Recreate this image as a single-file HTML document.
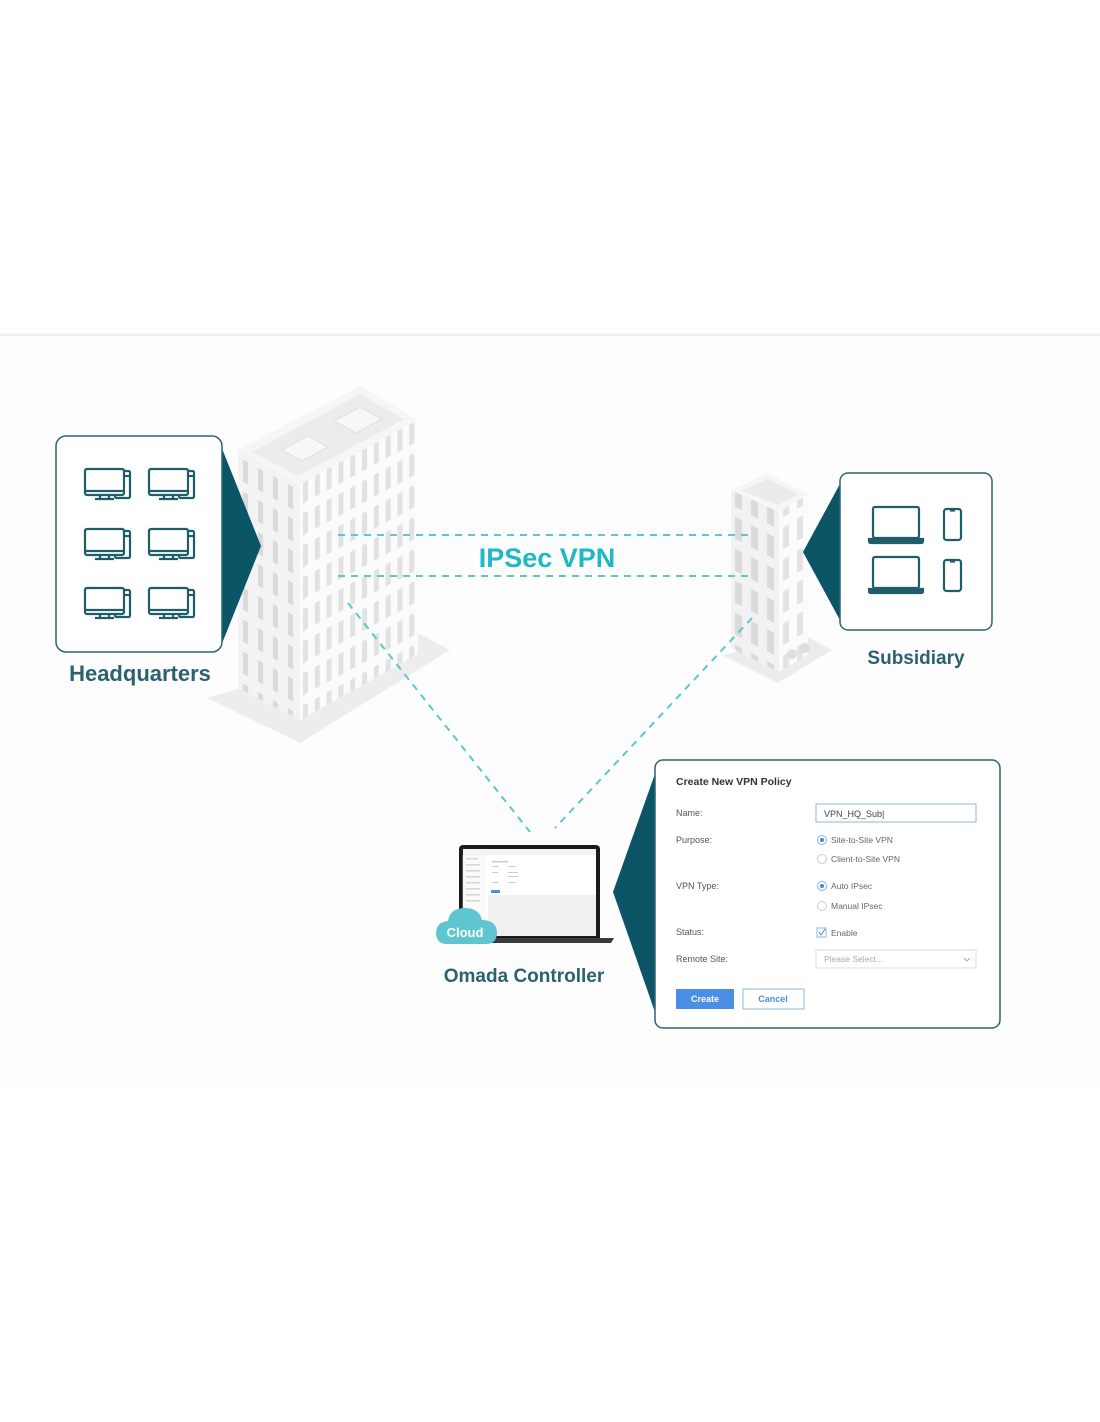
<!DOCTYPE html>
<html><head><meta charset="utf-8"><style>
html,body{margin:0;padding:0;background:#fff}
svg{display:block}
text{font-family:"Liberation Sans",Arial,sans-serif}
</style></head><body>
<svg width="1100" height="1422" viewBox="0 0 1100 1422" xmlns="http://www.w3.org/2000/svg">
<defs>
<pattern id="wR" patternUnits="userSpaceOnUse" x="300" y="0" width="11.8" height="32" patternTransform="skewY(-28.5)">
<rect x="3" y="6" width="5" height="22" fill="#e2e2e2"/></pattern>
<pattern id="wL" patternUnits="userSpaceOnUse" x="238" y="0" width="15" height="32" patternTransform="skewY(28.8)">
<rect x="5" y="6" width="5" height="22" fill="#d9d9d9"/></pattern>
<pattern id="sL" patternUnits="userSpaceOnUse" x="731" y="0" width="16" height="32" patternTransform="skewY(27.5)">
<rect x="4" y="6" width="7" height="22" fill="#dadada"/></pattern>
<pattern id="sR" patternUnits="userSpaceOnUse" x="779" y="0" width="14" height="32" patternTransform="skewY(-31)">
<rect x="4" y="6" width="6" height="22" fill="#e3e3e3"/></pattern>
<g id="pc" fill="none" stroke="#1f5e69" stroke-width="2.2">
<rect x="31" y="3" width="15" height="27" rx="1.5" fill="#fff"/>
<line x1="40" y1="8" x2="46" y2="8"/>
<rect x="1" y="1" width="39" height="26" rx="2" fill="#fff"/>
<line x1="1" y1="23" x2="40" y2="23"/>
<line x1="16" y1="27" x2="16" y2="31"/><line x1="25" y1="27" x2="25" y2="31"/>
<line x1="11" y1="31" x2="30" y2="31"/>
</g>
<g id="lap" fill="none" stroke="#1f5e69" stroke-width="2.2">
<rect x="4" y="0" width="46" height="31" rx="2"/>
<path d="M0 32 H54 V34 Q54 36 52 36 H2 Q0 36 0 34 Z" fill="#1f5e69"/>
</g>
<g id="ph" fill="none" stroke="#1f5e69" stroke-width="2.2">
<rect x="0" y="0" width="17" height="31" rx="2.5"/>
<line x1="6" y1="1.5" x2="11" y2="1.5"/>
</g>
</defs>

<line x1="0" y1="335" x2="1100" y2="335" stroke="#f0f0f0" stroke-width="3"/>
<rect x="0" y="337" width="1100" height="750" fill="#fdfdfd"/>

<!-- HQ building -->
<polygon points="207,698 300,743 450,650 420,634" fill="#ededed"/>
<polygon points="238,450 300,484 300,720 238,688" fill="#f3f3f3"/>
<polygon points="238,450 300,484 300,720 238,688" fill="url(#wL)"/>
<polygon points="300,484 418,420 418,654 300,720" fill="#fbfbfb"/>
<polygon points="300,484 418,420 418,654 300,720" fill="url(#wR)"/>
<polygon points="238,450 360,386 418,420 300,484" fill="#f6f6f6"/>
<polygon points="252,452 360,394 404,419 298,476" fill="#ececec"/>
<polygon points="282,450 308,436 328,447 302,461" fill="#f7f7f7" stroke="#e0e0e0"/>
<polygon points="334,421 360,407 382,419 356,433" fill="#f7f7f7" stroke="#e0e0e0"/>

<!-- Subsidiary building -->
<polygon points="722,655 778,683 832,650 808,637" fill="#ececec"/>
<polygon points="731,490 779,512 779,672 731,648" fill="#f2f2f2"/>
<polygon points="731,490 779,512 779,672 731,648" fill="url(#sL)"/>
<polygon points="779,512 808,494 808,655 779,672" fill="#fbfbfb"/>
<polygon points="779,512 808,494 808,655 779,672" fill="url(#sR)"/>
<polygon points="731,490 768,473 808,494 779,512" fill="#f6f6f6"/>
<polygon points="742,491 768,479 798,494 778,505" fill="#ebebeb"/>
<circle cx="792" cy="654" r="5" fill="#dedede"/><circle cx="805" cy="648" r="5" fill="#dedede"/>

<!-- dashed lines -->
<g stroke="#5cc7cf" stroke-width="2" stroke-dasharray="7,6" fill="none">
<line x1="338" y1="535" x2="752" y2="535"/>
<line x1="338" y1="576" x2="752" y2="576"/>
<line x1="348" y1="603" x2="530" y2="832"/>
<line x1="752" y1="618" x2="555" y2="828"/>
</g>
<rect x="470" y="543" width="158" height="30" fill="#fdfdfd"/>
<text x="547" y="567" text-anchor="middle" font-size="27" font-weight="bold" fill="#1fb9c6">IPSec VPN</text>

<!-- HQ box -->
<polygon points="221,446 261,546 221,646" fill="#0b5566"/>
<rect x="56" y="436" width="166" height="216" rx="10" fill="#fff" stroke="#2b6570" stroke-width="1.5"/>
<use href="#pc" x="84" y="468"/><use href="#pc" x="148" y="468"/>
<use href="#pc" x="84" y="528"/><use href="#pc" x="148" y="528"/>
<use href="#pc" x="84" y="587"/><use href="#pc" x="148" y="587"/>
<text x="140" y="681" text-anchor="middle" font-size="22" font-weight="bold" fill="#2a6272">Headquarters</text>

<!-- Subsidiary box -->
<polygon points="841,482 803,552 841,622" fill="#0b5566"/>
<rect x="840" y="473" width="152" height="157" rx="8" fill="#fff" stroke="#2b6570" stroke-width="1.5"/>
<use href="#lap" x="869" y="507"/><use href="#ph" x="944" y="509"/>
<use href="#lap" x="869" y="557"/><use href="#ph" x="944" y="560"/>
<text x="916" y="664" text-anchor="middle" font-size="19" font-weight="bold" fill="#2a6272">Subsidiary</text>

<!-- Laptop -->
<rect x="459" y="845" width="141" height="96" rx="4" fill="#1b1b1b"/>
<rect x="463" y="849" width="133" height="87" fill="#fff"/>
<rect x="463" y="849" width="133" height="6" fill="#f3f3f3"/>
<rect x="463" y="855" width="22" height="81" fill="#fafafa" stroke="#eee" stroke-width="0.5"/>
<rect x="488" y="895" width="108" height="41" fill="#f0f0f0"/>
<g fill="#ccc"><rect x="492" y="861" width="16" height="1.5"/><rect x="492" y="866" width="6" height="1"/><rect x="508" y="866" width="8" height="1"/><rect x="492" y="872" width="6" height="1"/><rect x="508" y="872" width="10" height="1"/><rect x="508" y="876" width="10" height="1"/><rect x="492" y="882" width="6" height="1"/><rect x="508" y="882" width="8" height="1"/></g>
<rect x="491" y="890" width="9" height="3" fill="#4a8ee6"/>
<g fill="#d6d6d6"><rect x="466" y="858" width="12" height="1.5"/><rect x="466" y="864" width="14" height="1.5"/><rect x="466" y="870" width="14" height="1.5"/><rect x="466" y="876" width="14" height="1.5"/><rect x="466" y="882" width="14" height="1.5"/><rect x="466" y="888" width="14" height="1.5"/><rect x="466" y="894" width="14" height="1.5"/><rect x="466" y="900" width="14" height="1.5"/></g>
<path d="M444 938 H614 L611 943 H447 Z" fill="#3a3a3a"/>
<path d="M447 944 Q437 944 436 934 Q436 922 448 921 Q450 908 465 908 Q479 908 482 920 Q496 920 497 932 Q497 944 486 944 Z" fill="#5fc6d0"/>
<text x="465" y="937" text-anchor="middle" font-size="13" font-weight="bold" fill="#fff">Cloud</text>
<text x="524" y="982" text-anchor="middle" font-size="19" font-weight="bold" fill="#2a6272">Omada Controller</text>

<!-- Dialog -->
<polygon points="656,771 613,892 656,1015" fill="#0b5566"/>
<rect x="655" y="760" width="345" height="268" rx="8" fill="#fff" stroke="#2b6570" stroke-width="1.5"/>
<g font-size="9" fill="#555">
<text x="676" y="785" font-size="10.5" font-weight="bold" fill="#333">Create New VPN Policy</text>
<text x="676" y="816">Name:</text>
<text x="676" y="843">Purpose:</text>
<text x="676" y="889">VPN Type:</text>
<text x="676" y="935">Status:</text>
<text x="676" y="962">Remote Site:</text>
</g>
<rect x="816" y="804" width="160" height="18" fill="#fff" stroke="#8db5e0"/>
<text x="824" y="817" font-size="9" fill="#444">VPN_HQ_Sub|</text>
<g font-size="8.5" fill="#666">
<circle cx="822" cy="840" r="4.5" fill="#fff" stroke="#8db5e0"/><circle cx="822" cy="840" r="2" fill="#3f86e0"/>
<text x="831" y="843">Site-to-Site VPN</text>
<circle cx="822" cy="859" r="4.5" fill="#fff" stroke="#ccc"/>
<text x="831" y="862">Client-to-Site VPN</text>
<circle cx="822" cy="886" r="4.5" fill="#fff" stroke="#8db5e0"/><circle cx="822" cy="886" r="2" fill="#3f86e0"/>
<text x="831" y="889">Auto IPsec</text>
<circle cx="822" cy="906" r="4.5" fill="#fff" stroke="#ccc"/>
<text x="831" y="909">Manual IPsec</text>
<rect x="817" y="928" width="9" height="9" fill="#fff" stroke="#8db5e0"/>
<path d="M819 932 L821 935 L825 929" stroke="#3f86e0" fill="none"/>
<text x="831" y="936">Enable</text>
</g>
<rect x="816" y="950" width="160" height="18" fill="#fff" stroke="#ddd"/>
<text x="824" y="962" font-size="8.5" fill="#aaa">Please Select...</text>
<path d="M964 958 L967 961 L970 958" stroke="#aaa" fill="none"/>
<rect x="676" y="989" width="58" height="20" fill="#4a8ee6"/>
<text x="705" y="1002" text-anchor="middle" font-size="9" font-weight="bold" fill="#fff">Create</text>
<rect x="743" y="989" width="61" height="20" fill="#fff" stroke="#8db5e0"/>
<text x="773" y="1002" text-anchor="middle" font-size="9" font-weight="bold" fill="#4a8ee6">Cancel</text>
</svg>
</body></html>
